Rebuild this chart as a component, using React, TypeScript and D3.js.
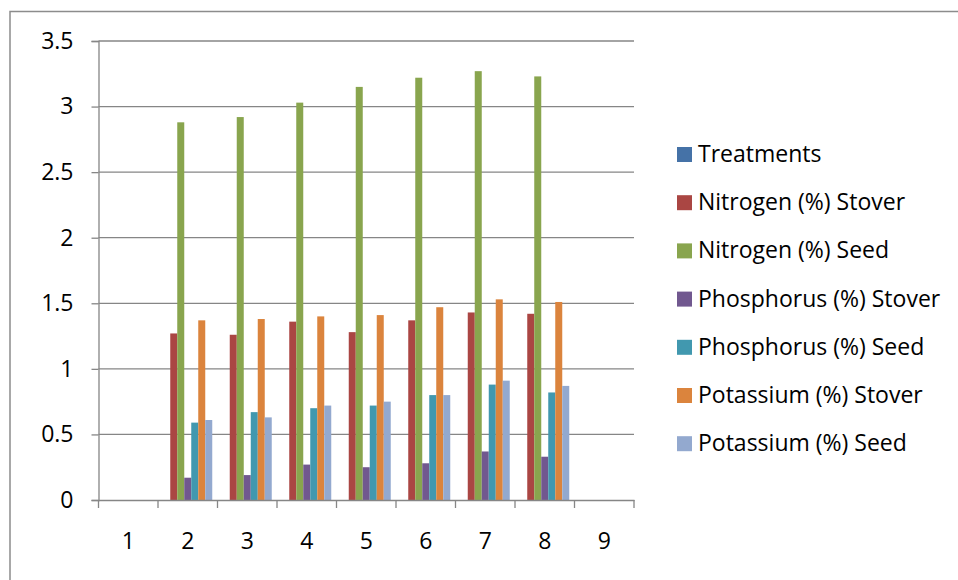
import React, { useEffect, useRef } from 'react';
import * as d3 from 'd3';

const categories = ['1', '2', '3', '4', '5', '6', '7', '8', '9'];
const seriesNames = [
  'Treatments',
  'Nitrogen (%) Stover',
  'Nitrogen (%) Seed',
  'Phosphorus (%) Stover',
  'Phosphorus (%) Seed',
  'Potassium (%) Stover',
  'Potassium (%) Seed',
];
const seriesColors = ['#4572A7', '#AA4643', '#89A54E', '#71588F', '#4198AF', '#DB843D', '#93A9CF'];

// one array per series, indexed by category (null = empty)
const treatments = [null, null, null, null, null, null, null, null, null];
const nitrogenStover = [null, 1.27, 1.26, 1.36, 1.28, 1.37, 1.43, 1.42, null];
const nitrogenSeed = [null, 2.88, 2.92, 3.03, 3.15, 3.22, 3.27, 3.23, null];
const phosphorusStover = [null, 0.17, 0.19, 0.27, 0.25, 0.28, 0.37, 0.33, null];
const phosphorusSeed = [null, 0.59, 0.67, 0.70, 0.72, 0.80, 0.88, 0.82, null];
const potassiumStover = [null, 1.37, 1.38, 1.40, 1.41, 1.47, 1.53, 1.51, null];
const potassiumSeed = [null, 0.61, 0.63, 0.72, 0.75, 0.80, 0.91, 0.87, null];

const yTicks = [0, 0.5, 1, 1.5, 2, 2.5, 3, 3.5];

const FONT = '"Open Sans", "Liberation Sans", Arial, sans-serif';

export default function App() {
  const svgRef = useRef<SVGSVGElement>(null);

  useEffect(() => {
    document.body.style.margin = '0';
    if (!svgRef.current) return;
    const svg = d3.select(svgRef.current);
    svg.selectAll('*').remove();

    const width = 958;
    const height = 580;
    const plot = { left: 98.5, right: 634, top: 41, bottom: 500 };

    const series = [treatments, nitrogenStover, nitrogenSeed, phosphorusStover, phosphorusSeed, potassiumStover, potassiumSeed];

    svg.append('rect').attr('width', width).attr('height', height).attr('fill', '#fff');

    // outer chart border
    svg.append('rect')
      .attr('x', 10).attr('y', 11.5)
      .attr('width', width).attr('height', height)
      .attr('fill', 'none').attr('stroke', '#8c8c8c').attr('stroke-width', 1.5);

    const x = d3.scaleBand<string>().domain(categories).range([plot.left, plot.right]).padding(0);
    const inner = d3.scaleBand<string>()
      .domain(seriesNames)
      .range([0, x.bandwidth()])
      .paddingInner(0)
      .paddingOuter(0.75);
    const y = d3.scaleLinear().domain([0, 3.5]).range([plot.bottom, plot.top]);

    // gridlines
    svg.append('g').selectAll('line').data(yTicks.filter(t => t > 0)).join('line')
      .attr('x1', plot.left).attr('x2', plot.right)
      .attr('y1', d => y(d)).attr('y2', d => y(d))
      .attr('stroke', '#868686').attr('stroke-width', 1.3);

    // bars
    const g = svg.append('g');
    series.forEach((vals, si) => {
      g.append('g').selectAll('rect')
        .data(vals.map((v, i) => ({ v, c: categories[i] })).filter(d => d.v != null))
        .join('rect')
        .attr('x', d => x(d.c)! + inner(seriesNames[si])!)
        .attr('width', inner.bandwidth())
        .attr('y', d => y(d.v as number))
        .attr('height', d => y(0) - y(d.v as number))
        .attr('fill', seriesColors[si]);
    });

    // y axis
    const yAxis = svg.append('g').attr('transform', `translate(${plot.left},0)`)
      .call(d3.axisLeft(y).tickValues(yTicks).tickSize(7).tickPadding(18).tickFormat(d => String(d)));
    yAxis.select('.domain').attr('stroke', '#868686').attr('stroke-width', 1.3);
    yAxis.selectAll('.tick line').attr('stroke', '#868686').attr('stroke-width', 1.3);
    yAxis.selectAll('text').attr('font-family', FONT).attr('font-size', 23).attr('fill', '#000');

    // x axis
    const xAxis = svg.append('g').attr('transform', `translate(0,${plot.bottom})`)
      .call(d3.axisBottom(x).tickSize(0).tickPadding(33));
    xAxis.select('.domain').attr('stroke', '#868686').attr('stroke-width', 1.3);
    xAxis.selectAll('text').attr('font-family', FONT).attr('font-size', 23).attr('fill', '#000');
    const edges = categories.map(c => x(c)!).concat([plot.right]);
    svg.append('g').selectAll('line').data(edges).join('line')
      .attr('x1', d => d).attr('x2', d => d)
      .attr('y1', plot.bottom).attr('y2', plot.bottom + 8)
      .attr('stroke', '#868686').attr('stroke-width', 1.3);

    // legend
    const legend = svg.append('g').attr('transform', 'translate(677,154)');
    seriesNames.forEach((name, i) => {
      const row = legend.append('g').attr('transform', `translate(0,${i * 48.2})`);
      row.append('rect').attr('x', 0).attr('y', -7).attr('width', 15).attr('height', 15).attr('fill', seriesColors[i]);
      row.append('text')
        .attr('x', 21).attr('y', 0).attr('dy', '0.35em')
        .attr('font-family', FONT).attr('font-size', 23).attr('fill', '#000')
        .text(name);
    });
  }, []);

  return <svg ref={svgRef} width={958} height={580} style={{ display: 'block' }} />;
}
